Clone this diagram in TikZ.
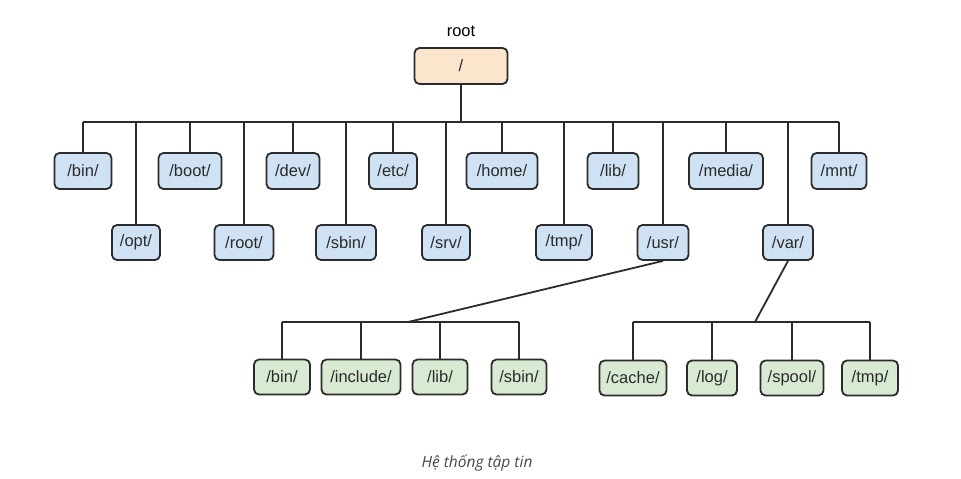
\documentclass[tikz,border=0pt]{standalone}
\usepackage{fontspec}
\setmainfont{Liberation Sans}
\newfontfamily\capfont{Open Sans}
\definecolor{dirblue}{HTML}{CFE2F3}
\definecolor{dirgreen}{HTML}{D9EAD3}
\definecolor{dirpeach}{HTML}{FCE5CD}
\definecolor{inkgray}{HTML}{2B2B2B}
\begin{document}
\begin{tikzpicture}[x=1pt,y=-1pt,
  dirbox/.style={draw=inkgray, line width=1.8pt, rounded corners=5pt,
    inner sep=0pt, text=inkgray,
    font=\fontsize{16.5}{18}\selectfont},
  topdir/.style={dirbox, fill=dirblue, minimum height=36pt},
  subdir/.style={dirbox, fill=dirgreen, minimum height=35pt},
  rootdir/.style={dirbox, fill=dirpeach, minimum height=36pt},
  link/.style={draw=inkgray, line width=1.8pt}]
\useasboundingbox (0,0) rectangle (961,479);

% root of the tree
\node[font=\fontsize{16.5}{18}\selectfont, text=black] (rootlabel) at (461,31) {root};
\node[rootdir, minimum width=93pt] (top) at (461,66) {/};

% first row of directories
\node[topdir, minimum width=57pt] (bin)   at (83,171)  {/bin/};
\node[topdir, minimum width=63pt] (boot)  at (190,171) {/boot/};
\node[topdir, minimum width=53pt] (dev)   at (293,171) {/dev/};
\node[topdir, minimum width=48pt] (etc)   at (393,171) {/etc/};
\node[topdir, minimum width=71pt] (home)  at (502,171) {/home/};
\node[topdir, minimum width=51pt] (lib)   at (613,171) {/lib/};
\node[topdir, minimum width=74pt] (media) at (726,171) {/media/};
\node[topdir, minimum width=55pt] (mnt)   at (839,171) {/mnt/};

% second row of directories
\node[topdir, minimum width=48pt, minimum height=35pt] (opt)   at (136,242.5) {/opt/};
\node[topdir, minimum width=59pt, minimum height=35pt] (rootd) at (244,242.5) {/root/};
\node[topdir, minimum width=60pt, minimum height=35pt] (sbin)  at (346,242.5) {/sbin/};
\node[topdir, minimum width=48pt, minimum height=35pt] (srv)   at (446,242.5) {/srv/};
\node[topdir, minimum width=56pt, minimum height=35pt] (tmp)   at (564,242.5) {/tmp/};
\node[topdir, minimum width=51pt, minimum height=35pt] (usr)   at (663,242.5) {/usr/};
\node[topdir, minimum width=50pt, minimum height=35pt] (var)   at (788,242.5) {/var/};

% contents of /usr/
\node[subdir, minimum width=56pt] (ubin)    at (282,377) {/bin/};
\node[subdir, minimum width=79pt] (uinc)    at (361,377) {/include/};
\node[subdir, minimum width=55pt] (ulib)    at (440,377) {/lib/};
\node[subdir, minimum width=55pt] (usbin)   at (519,377) {/sbin/};

% contents of /var/
\node[subdir, minimum width=67pt] (vcache)  at (633,378) {/cache/};
\node[subdir, minimum width=50pt] (vlog)    at (712,378) {/log/};
\node[subdir, minimum width=63pt] (vspool)  at (792,378) {/spool/};
\node[subdir, minimum width=56pt] (vtmp)    at (870,378) {/tmp/};

% bus levels
\coordinate (bus) at (0,122);
\coordinate (ubus) at (408,322);
\coordinate (vbus) at (755,322);

% connectors from / to its children
\draw[link] (top.south) -- (top.south |- bus);
\draw[link] (bin.north |- bus) -- (mnt.north |- bus);
\foreach \d in {bin,boot,dev,etc,home,lib,media,mnt,opt,rootd,sbin,srv,tmp,usr,var}
  \draw[link] (\d.north) -- (\d.north |- bus);

% connectors below /usr/
\draw[link] (usr.south) -- (ubus);
\draw[link] (ubin.north |- ubus) -- (usbin.north |- ubus);
\foreach \d in {ubin,uinc,ulib,usbin}
  \draw[link] (\d.north) -- (\d.north |- ubus);

% connectors below /var/
\draw[link] (var.south) -- (vbus);
\draw[link] (vcache.north |- vbus) -- (vtmp.north |- vbus);
\foreach \d in {vcache,vlog,vspool,vtmp}
  \draw[link] (\d.north) -- (\d.north |- vbus);

% caption
\node[font=\capfont\itshape\fontsize{15.5}{18}\selectfont, text=black!72] (caption) at (477,463) {Hệ thống tập tin};
\end{tikzpicture}
\end{document}
